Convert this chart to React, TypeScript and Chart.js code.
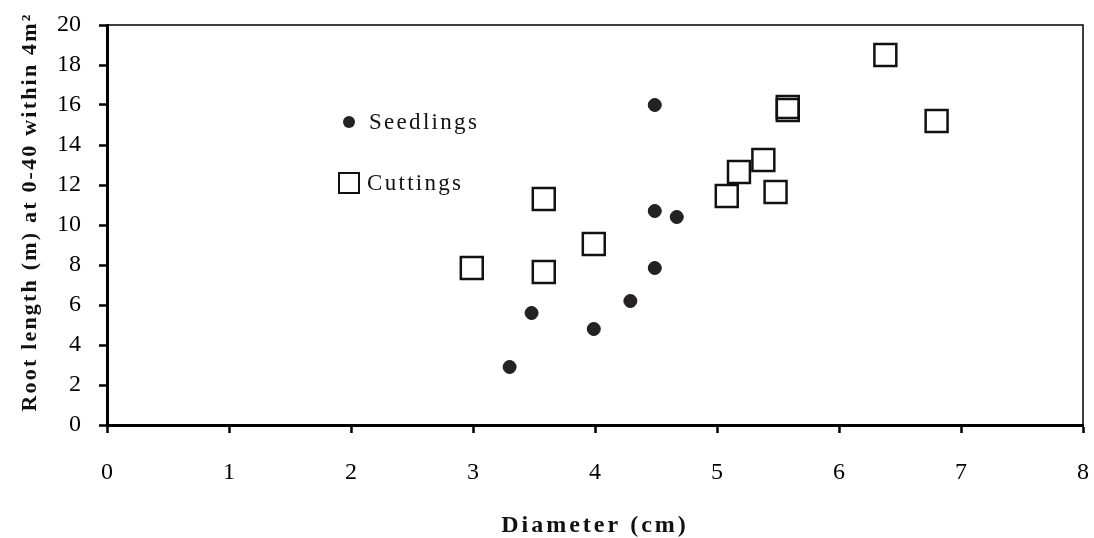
import React, { useEffect, useRef } from 'react';
import { Chart, registerables } from 'chart.js';

Chart.register(...registerables);

// ---- Data ----
const seedlingsX = [3.3, 3.48, 3.99, 4.29, 4.49, 4.49, 4.67, 4.49];
const seedlingsY = [2.9, 5.6, 4.8, 6.2, 7.85, 10.7, 10.4, 16.0];
const cuttingsX = [2.99, 3.58, 3.58, 3.99, 5.08, 5.18, 5.38, 5.48, 5.58, 5.58, 6.38, 6.8];
const cuttingsY = [7.85, 11.3, 7.65, 9.05, 11.45, 12.65, 13.25, 11.65, 15.75, 15.9, 18.5, 15.2];
const xTickValues = [0, 1, 2, 3, 4, 5, 6, 7, 8];
const yTickValues = [0, 2, 4, 6, 8, 10, 12, 14, 16, 18, 20];
const seriesNames = ['Seedlings', 'Cuttings'];
const xTitle = 'Diameter (cm)';
const yTitle = 'Root length (m) at 0-40 within 4m²';

const SERIF = '"Liberation Serif", "Times New Roman", serif';

const decorPlugin = {
  id: 'decor',
  afterDraw(chart: any) {
    const { ctx, chartArea: a } = chart;
    ctx.save();
    // thin top/right frame
    ctx.strokeStyle = '#000';
    ctx.lineWidth = 1.5;
    ctx.beginPath();
    ctx.moveTo(a.left, a.top);
    ctx.lineTo(a.right, a.top);
    ctx.lineTo(a.right, a.bottom);
    ctx.stroke();

    // legend inside plot
    const lx = a.left + 242;
    const ly1 = a.top + 97;
    const ly2 = a.top + 158;
    ctx.fillStyle = '#222';
    ctx.beginPath();
    ctx.arc(lx, ly1, 6, 0, Math.PI * 2);
    ctx.fill();
    ctx.lineWidth = 2;
    ctx.strokeStyle = '#111';
    ctx.strokeRect(lx - 10, ly2 - 10, 20, 20);
    ctx.fillStyle = '#111';
    ctx.font = `23px ${SERIF}`;
    (ctx as any).letterSpacing = '2.3px';
    ctx.textAlign = 'left';
    ctx.textBaseline = 'alphabetic';
    ctx.fillText(seriesNames[0], lx + 20, ly1 + 7);
    ctx.fillText(seriesNames[1], lx + 18, ly2 + 7);

    // axis titles
    ctx.font = `bold 24px ${SERIF}`;
    (ctx as any).letterSpacing = '3px';
    ctx.textAlign = 'center';
    ctx.fillText(xTitle, (a.left + a.right) / 2, 532);

    ctx.font = `bold 22px ${SERIF}`;
    (ctx as any).letterSpacing = '2.2px';
    ctx.translate(30, 212);
    ctx.rotate(-Math.PI / 2);
    ctx.textBaseline = 'middle';
    ctx.fillText(yTitle, 0, 0);
    ctx.restore();
  },
};

const zeroPad = (s: any) => {
  s.paddingLeft = 0;
  s.paddingRight = 0;
  s.paddingTop = 0;
  s.paddingBottom = 0;
};

export default function App() {
  const canvasRef = useRef<HTMLCanvasElement | null>(null);

  useEffect(() => {
    document.body.style.margin = '0';
    const canvas = canvasRef.current;
    if (!canvas) return;
    const seedlings = seedlingsX.map((x, i) => ({ x, y: seedlingsY[i] }));
    const cuttings = cuttingsX.map((x, i) => ({ x, y: cuttingsY[i] }));

    const chart = new Chart(canvas, {
      type: 'scatter',
      data: {
        datasets: [
          {
            label: seriesNames[0],
            data: seedlings,
            pointStyle: 'circle',
            pointRadius: 6.5,
            backgroundColor: '#262224',
            borderColor: '#1a1a1a',
            borderWidth: 1,
          },
          {
            label: seriesNames[1],
            data: cuttings,
            pointStyle: 'rect',
            pointRadius: 15.5,
            backgroundColor: 'rgba(255,255,255,0)',
            borderColor: '#111',
            borderWidth: 2.5,
          },
        ],
      },
      options: {
        responsive: false,
        animation: false,
        events: [],
        layout: { autoPadding: false, padding: { left: 0, right: 11, top: 25, bottom: 0 } },
        plugins: {
          legend: { display: false },
          tooltip: { enabled: false },
          title: { display: false },
        },
        scales: {
          x: {
            type: 'linear',
            min: 0,
            max: 8,
            afterFit: (s: any) => {
              s.height = 113;
              zeroPad(s);
            },
            afterBuildTicks: (s: any) => {
              s.ticks = xTickValues.map((v) => ({ value: v }));
            },
            ticks: {
              color: '#000',
              font: { family: SERIF, size: 24 },
              padding: 25,
              maxRotation: 0,
            },
            grid: {
              display: true,
              drawOnChartArea: false,
              drawTicks: true,
              tickLength: 8,
              tickWidth: 2.5,
              color: '#000',
            },
            border: { display: true, color: '#000', width: 3 },
          },
          y: {
            type: 'linear',
            min: 0,
            max: 20,
            afterFit: (s: any) => {
              s.width = 107;
              zeroPad(s);
            },
            afterBuildTicks: (s: any) => {
              s.ticks = yTickValues.map((v) => ({ value: v }));
            },
            ticks: {
              color: '#000',
              font: { family: SERIF, size: 24 },
              padding: 18,
            },
            grid: {
              display: true,
              drawOnChartArea: false,
              drawTicks: true,
              tickLength: 8,
              tickWidth: 2.5,
              color: '#000',
            },
            border: { display: true, color: '#000', width: 3 },
          },
        },
      },
      plugins: [decorPlugin],
    });
    return () => chart.destroy();
  }, []);

  return (
    <div style={{ position: 'absolute', left: 0, top: 0, width: 1094, height: 538, background: '#fff' }}>
      <canvas ref={canvasRef} width={1094} height={538} />
    </div>
  );
}
